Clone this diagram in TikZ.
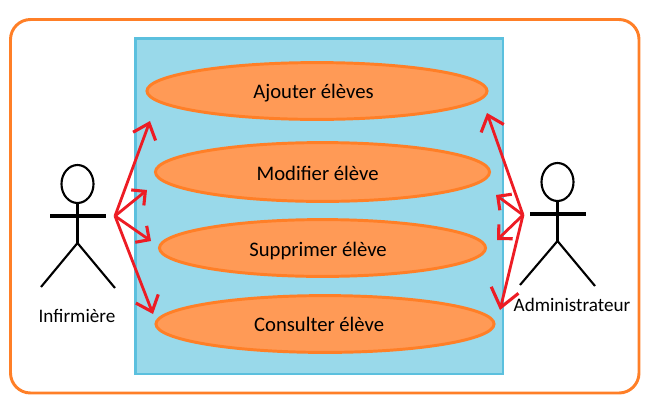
\documentclass[tikz,border=0pt]{standalone}
\usepackage{fontspec}
\setmainfont{Carlito}
\usepackage{tikz}
\usetikzlibrary{shapes.geometric,arrows.meta}
\definecolor{cadreorange}{HTML}{FF7F27}
\definecolor{casfill}{HTML}{FF9A56}
\definecolor{fondbleu}{HTML}{99D9EA}
\definecolor{bordbleu}{HTML}{5BC0DE}
\definecolor{lienrouge}{HTML}{ED1C24}

\begin{document}
\begin{tikzpicture}[
    x=0.025cm, y=-0.025cm,
    cas/.style={ellipse, draw=cadreorange, fill=casfill, line width=2.1pt, inner sep=0pt, font=\fontsize{14.7pt}{18pt}\selectfont},
    limb/.style={draw=black, line width=1.5pt},
    bras/.style={draw=black, line width=2.5pt},
    lien/.style={draw=lienrouge, line width=2pt, -{Straight Barb[length=3.5mm,width=6mm,line width=2.2pt]}},
    petitlien/.style={draw=lienrouge, line width=2pt, -{Straight Barb[length=2.5mm,width=5mm,line width=2.2pt]}},
    grandlien/.style={draw=lienrouge, line width=2pt, -{Straight Barb[length=4.5mm,width=7mm,line width=2.2pt]}},
    acteur/.style={font=\fontsize{13.6pt}{16pt}\selectfont, inner sep=0pt}
  ]
    \useasboundingbox (0,0) rectangle (649,402);

    % Cadres
    \draw[draw=cadreorange, line width=2.1pt, rounded corners=0.5cm] (10.5,19.5) rectangle (639,393);
    \draw[draw=bordbleu, fill=fondbleu, line width=2.1pt] (135.5,38.5) rectangle (503,374);

    % Cas
    \node[cas, minimum width=8.5cm, minimum height=1.42cm] (c1) at (317,91) {\hspace*{-5pt}\raisebox{-1.8pt}[\height][\depth]{Ajouter élèves}};
    \node[cas, minimum width=8.35cm, minimum height=1.47cm] (c2) at (322.5,172) {\hspace*{-7pt}\raisebox{-0.7pt}[\height][\depth]{Modifier élève}};
    \node[cas, minimum width=8.15cm, minimum height=1.42cm] (c3) at (322.5,248) {\hspace*{-6.4pt}\raisebox{-2.1pt}[\height][\depth]{Supprimer élève}};
    \node[cas, minimum width=8.45cm, minimum height=1.42cm] (c4) at (325,324) {\hspace*{-8.4pt}Consulter élève};

    % Infirmière
    \node[ellipse, draw=black, line width=1.5pt, minimum width=0.8cm, minimum height=0.95cm, inner sep=0pt] (t1) at (77.5,184) {};
    \coordinate (h1) at (77.5,216);
    \coordinate (b1) at (77.5,243);
    \coordinate (ag1) at (50,216);
    \coordinate (ad1) at (106,216);
    \coordinate (pg1) at (41,287);
    \coordinate (pd1) at (115,288);
    \draw[limb] (t1) -- (b1);
    \draw[bras] (ag1) -- (ad1);
    \draw[limb] (pg1) -- (b1) -- (pd1);
    \node[acteur] (n1) at (77,316) {Infirmière};

    % Administrateur
    \node[ellipse, draw=black, line width=1.5pt, minimum width=0.8cm, minimum height=0.95cm, inner sep=0pt] (t2) at (557.5,182) {};
    \coordinate (h2) at (557.5,214);
    \coordinate (b2) at (557.5,241);
    \coordinate (ag2) at (530,214);
    \coordinate (ad2) at (586,214);
    \coordinate (pg2) at (520,285);
    \coordinate (pd2) at (595,286);
    \draw[limb] (t2) -- (b2);
    \draw[bras] (ag2) -- (ad2);
    \draw[limb] (pg2) -- (b2) -- (pd2);
    \node[acteur] (n2) at (572,305) {Administrateur};

    % Liens
    \coordinate (o1) at (115,216);
    \coordinate (o2) at (523,215);
    \coordinate (f1) at (150,121);
    \coordinate (f2) at (147,190);
    \coordinate (f3) at (151,241);
    \coordinate (f4) at (153,314);
    \coordinate (f5) at (487,113);
    \coordinate (f6) at (496,195);
    \coordinate (f7) at (497,240);
    \coordinate (f8) at (500,310);
    \draw[lien] (o1) -- (f1);
    \draw[petitlien] (o1) -- (f2);
    \draw[petitlien] (o1) -- (f3);
    \draw[lien] (o1) -- (f4);
    \draw[lien] (o2) -- (f5);
    \draw[petitlien] (o2) -- (f6);
    \draw[petitlien] (o2) -- (f7);
    \draw[grandlien] (o2) -- (f8);
  \end{tikzpicture}
\end{document}
